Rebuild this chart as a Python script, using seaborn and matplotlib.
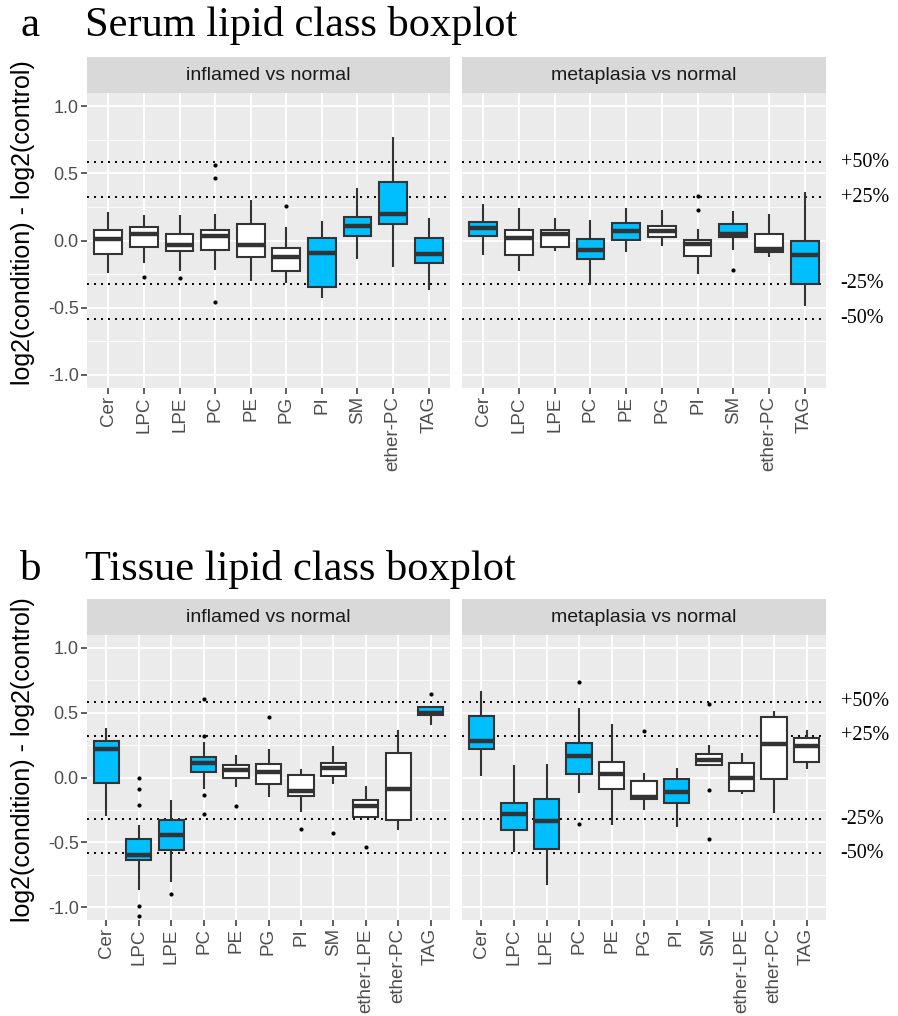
import matplotlib
matplotlib.use("Agg")
import matplotlib.pyplot as plt
from matplotlib.ticker import MultipleLocator
from matplotlib.transforms import blended_transform_factory
import seaborn as sns
import pandas as pd

# ---- data ----
serum_classes = ["Cer", "LPC", "LPE", "PC", "PE", "PG", "PI", "SM", "ether-PC", "TAG"]
tissue_classes = ["Cer", "LPC", "LPE", "PC", "PE", "PG", "PI", "SM", "ether-LPE", "ether-PC", "TAG"]

# serum, inflamed vs normal
s_inf_lo = [-0.24, -0.17, -0.23, -0.22, -0.30, -0.315, -0.43, -0.14, -0.20, -0.37]
s_inf_q1 = [-0.10, -0.05, -0.08, -0.07, -0.12, -0.23, -0.345, 0.03, 0.12, -0.17]
s_inf_med = [0.01, 0.05, -0.035, 0.03, -0.03, -0.12, -0.09, 0.11, 0.20, -0.10]
s_inf_q3 = [0.075, 0.10, 0.05, 0.08, 0.12, -0.055, 0.02, 0.175, 0.44, 0.02]
s_inf_hi = [0.215, 0.19, 0.19, 0.195, 0.30, 0.10, 0.145, 0.39, 0.77, 0.165]
s_inf_sig = [0, 0, 0, 0, 0, 0, 1, 1, 1, 1]
s_inf_out_cls = ["LPC", "LPE", "PC", "PC", "PC", "PG"]
s_inf_out_val = [-0.27, -0.28, 0.56, 0.465, -0.46, 0.26]

# serum, metaplasia vs normal
s_met_lo = [-0.11, -0.23, -0.075, -0.33, -0.085, -0.04, -0.25, -0.07, -0.12, -0.49]
s_met_q1 = [0.03, -0.11, -0.05, -0.135, 0.005, 0.0275, -0.115, 0.025, -0.085, -0.325]
s_met_med = [0.09, 0.015, 0.05, -0.0675, 0.07, 0.07, -0.0225, 0.045, -0.065, -0.105]
s_met_q3 = [0.14, 0.075, 0.075, 0.0075, 0.13, 0.11, 0.005, 0.12, 0.05, 0.0]
s_met_hi = [0.27, 0.24, 0.165, 0.155, 0.245, 0.23, 0.0875, 0.22, 0.20, 0.36]
s_met_sig = [1, 0, 0, 1, 1, 0, 0, 1, 0, 1]
s_met_out_cls = ["PI", "PI", "SM"]
s_met_out_val = [0.33, 0.23, -0.22]

# tissue, inflamed vs normal
t_inf_lo = [-0.30, -0.867, -0.81, -0.09, -0.077, -0.149, -0.267, -0.051, -0.31, -0.405, 0.408]
t_inf_q1 = [-0.04, -0.64, -0.56, 0.045, -0.003, -0.049, -0.146, 0.01, -0.303, -0.326, 0.485]
t_inf_med = [0.22, -0.60, -0.44, 0.11, 0.056, 0.044, -0.105, 0.077, -0.218, -0.087, 0.50]
t_inf_q3 = [0.28, -0.475, -0.33, 0.16, 0.095, 0.108, 0.023, 0.115, -0.174, 0.187, 0.541]
t_inf_hi = [0.38, -0.37, -0.175, 0.275, 0.17, 0.218, 0.069, 0.246, -0.067, 0.37, 0.549]
t_inf_sig = [1, 1, 1, 1, 0, 0, 0, 0, 0, 0, 1]
t_inf_out_cls = ["LPC", "LPC", "LPC", "LPC", "LPC", "LPE", "PC", "PC", "PC", "PC",
                 "PE", "PG", "PI", "SM", "ether-LPE", "TAG"]
t_inf_out_val = [0.0, -0.09, -0.21, -0.99, -1.07, -0.90, 0.605, 0.32, -0.135, -0.28,
                 -0.22, 0.467, -0.397, -0.426, -0.54, 0.646]

# tissue, metaplasia vs normal
t_met_lo = [0.01, -0.577, -0.833, -0.123, -0.369, -0.251, -0.385, 0.087, -0.131, -0.272, 0.067]
t_met_q1 = [0.22, -0.408, -0.554, 0.026, -0.092, -0.169, -0.195, 0.097, -0.105, -0.015, 0.123]
t_met_med = [0.285, -0.285, -0.333, 0.167, 0.026, -0.149, -0.115, 0.138, -0.003, 0.262, 0.241]
t_met_q3 = [0.477, -0.195, -0.167, 0.269, 0.12, -0.028, -0.015, 0.182, 0.115, 0.464, 0.305]
t_met_hi = [0.669, 0.10, 0.108, 0.538, 0.415, 0.031, 0.077, 0.254, 0.192, 0.51, 0.369]
t_met_sig = [1, 1, 1, 1, 0, 0, 1, 0, 0, 0, 0]
t_met_out_cls = ["PC", "PC", "PG", "SM", "SM", "SM"]
t_met_out_val = [0.738, -0.359, 0.356, 0.567, -0.097, -0.477]

ref_values = [0.585, 0.322, -0.322, -0.585]
ref_labels = ["+50%", "+25%", "-25%", "-50%"]

# ---- style ----
sns.set_theme(style="darkgrid", rc={
    "axes.facecolor": "#EBEBEB",
    "grid.color": "white",
    "axes.unicode_minus": False,
})
plt.rcParams["font.family"] = ["Liberation Sans", "DejaVu Sans"]
SERIF = ["Liberation Serif", "DejaVu Serif"]
BLUE = "#00BFFF"
W, H = 898, 1016


def px_box(x0, y0, x1, y1):
    return [x0 / W, 1 - y1 / H, (x1 - x0) / W, (y1 - y0) / H]


def add_strip(fig, x0, y0, x1, y1, text):
    ax = fig.add_axes(px_box(x0, y0, x1, y1))
    ax.set_facecolor("#D9D9D9")
    ax.set_xticks([])
    ax.set_yticks([])
    ax.grid(False)
    for s in ax.spines.values():
        s.set_visible(False)
    ax.text(0.5, 0.5, text, ha="center", va="center", fontsize=14, color="#1A1A1A",
            transform=ax.transAxes)


def draw_panel(ax, classes, lo, q1, med, q3, hi, sig, out_cls, out_val, show_y, show_ref):
    rows = []
    for i, c in enumerate(classes):
        for v in (lo[i], q1[i], med[i], q3[i], hi[i]):
            rows.append({"cls": c, "value": v, "fill": "up" if sig[i] else "ns"})
    df = pd.DataFrame(rows)

    for y in ref_values:
        ax.axhline(y, color="black", lw=1.4, ls=(0, (1, 2.6)), zorder=0.9)

    sns.boxplot(data=df, x="cls", y="value", hue="fill", order=classes,
                hue_order=["up", "ns"], palette={"up": BLUE, "ns": "white"},
                dodge=False, width=0.78, whis=(0, 100), showfliers=False,
                saturation=1, linecolor="#333333", linewidth=1.5, legend=False,
                showcaps=False, medianprops={"linewidth": 3.2}, ax=ax)
    out = pd.DataFrame({"cls": out_cls, "value": out_val})
    sns.stripplot(data=out, x="cls", y="value", order=classes, jitter=False,
                  color="black", size=3, ax=ax, zorder=3)

    n = len(classes)
    ax.set_xlim(-0.6, n - 0.4)
    ax.set_ylim(-1.1, 1.1)
    ax.set_yticks([-1.0, -0.5, 0.0, 0.5, 1.0])
    ax.set_yticklabels(["-1.0", "-0.5", "0.0", "0.5", "1.0"])
    ax.yaxis.set_minor_locator(MultipleLocator(0.25))
    ax.set_axisbelow(True)
    ax.grid(True, which="major", axis="both", color="white", lw=1.3)
    ax.grid(True, which="minor", axis="y", color="white", lw=0.6)
    ax.set_xlabel("")
    ax.set_ylabel("")
    for s in ax.spines.values():
        s.set_visible(False)
    ax.set_xticks(range(n))
    ax.set_xticklabels(classes, rotation=90, va="top", ha="center")
    ax.tick_params(axis="x", bottom=True, length=4, width=1.1, color="#333333",
                   labelsize=13.5, labelcolor="#4D4D4D", pad=2)
    ax.tick_params(axis="y", which="major", left=show_y, labelleft=show_y, length=4,
                   width=1.1, color="#333333", labelsize=13, labelcolor="#4D4D4D", pad=2)
    ax.tick_params(axis="y", which="minor", left=False, length=0)

    if show_ref:
        tr = blended_transform_factory(ax.transAxes, ax.transData)
        for y, lab in zip(ref_values, ref_labels):
            ax.text(1.04, y, lab, transform=tr, ha="left", va="center",
                    fontsize=14.5, family=SERIF, color="black")


fig = plt.figure(figsize=(W / 100, H / 100), dpi=100)

rows = [
    dict(letter="a", title="Serum lipid class boxplot", base=36, strip=(57, 93), plot=(93, 388),
         panels=[(serum_classes, s_inf_lo, s_inf_q1, s_inf_med, s_inf_q3, s_inf_hi, s_inf_sig,
                  s_inf_out_cls, s_inf_out_val, "inflamed vs normal"),
                 (serum_classes, s_met_lo, s_met_q1, s_met_med, s_met_q3, s_met_hi, s_met_sig,
                  s_met_out_cls, s_met_out_val, "metaplasia vs normal")]),
    dict(letter="b", title="Tissue lipid class boxplot", base=580, strip=(599, 635), plot=(635, 920),
         panels=[(tissue_classes, t_inf_lo, t_inf_q1, t_inf_med, t_inf_q3, t_inf_hi, t_inf_sig,
                  t_inf_out_cls, t_inf_out_val, "inflamed vs normal"),
                 (tissue_classes, t_met_lo, t_met_q1, t_met_med, t_met_q3, t_met_hi, t_met_sig,
                  t_met_out_cls, t_met_out_val, "metaplasia vs normal")]),
]
xspans = [(87, 450), (462, 826)]

for r in rows:
    fig.text(20 / W, 1 - r["base"] / H, r["letter"], fontsize=31, family=SERIF,
             va="baseline", color="black")
    fig.text(85 / W, 1 - r["base"] / H, r["title"], fontsize=30.5, family=SERIF,
             va="baseline", color="black")
    for j, p in enumerate(r["panels"]):
        x0, x1 = xspans[j]
        add_strip(fig, x0, r["strip"][0], x1, r["strip"][1], p[9])
        ax = fig.add_axes(px_box(x0, r["plot"][0], x1, r["plot"][1]))
        draw_panel(ax, *p[:9], show_y=(j == 0), show_ref=(j == 1))
    ymid = (r["strip"][0] + r["plot"][1]) / 2
    fig.text(23 / W, 1 - ymid / H, "log2(condition) - log2(control)", rotation=90,
             ha="center", va="center", fontsize=18, color="black")

fig.savefig("out.png", dpi=100)
